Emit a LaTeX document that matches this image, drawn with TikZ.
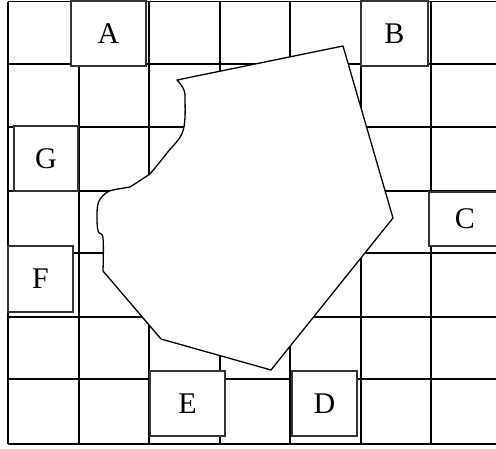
\documentclass[tikz,border=0pt]{standalone}
\usepackage{fontspec}
\setmainfont{Liberation Serif}
\usepackage{tikz}

\begin{document}
\begin{tikzpicture}[x=1pt, y=-1pt,
    every node/.style={font=\fontsize{30}{34}\selectfont},
    gridline/.style={line width=1.5pt, color=black},
    letterbox/.style={draw=black!80, fill=white, line width=1.6pt, inner sep=0pt, anchor=center}]
    % page size and cut at the right edge
    \useasboundingbox (0,0) rectangle (496,448);
    \clip (0,0) rectangle (496,448);

    % grid, seven columns and seven rows (last column cut off)
    \foreach \gx in {8,79,149,220,290,361,431,501}
        \draw[gridline] (\gx,1.5) -- (\gx,444);
    \foreach \gy in {1.5,64,127,191,253,317,379,444}
        \draw[gridline] (8,\gy) -- (510,\gy);

    % the irregular plot over the middle of the grid
    \draw[line width=1.3pt, fill=white, line join=round]
        (177,80) -- (343,46) -- (393,218) -- (271,370) -- (161,339) -- (103,271)
        -- plot[smooth, tension=0.6] coordinates {(103,271) (103,238) (98,231) (97,213) (99,201) (106,193) (113,190) (130,187)}
        -- (150,174)
        -- plot[smooth, tension=0.6] coordinates {(150,174) (167,153) (183,131) (185,98) (183,88) (177,80)}
        -- cycle;

    % lettered boxes
    \node[letterbox, minimum width=75pt, minimum height=65pt] (boxA) at (108.5,33.5) {A};
    \node[letterbox, minimum width=67pt, minimum height=65pt] (boxB) at (394.5,33.5) {B};
    \node[letterbox, minimum width=64pt, minimum height=65pt] (boxG) at (46,158.5) {G};
    \node[letterbox, minimum width=72pt, minimum height=54pt] (boxC) at (465,219) {C};
    \node[letterbox, minimum width=65pt, minimum height=66pt] (boxF) at (40.5,279) {F};
    \node[letterbox, minimum width=75pt, minimum height=65pt] (boxE) at (187.5,403.5) {E};
    \node[letterbox, minimum width=65pt, minimum height=65pt] (boxD) at (324.5,403.5) {D};
\end{tikzpicture}
\end{document}
